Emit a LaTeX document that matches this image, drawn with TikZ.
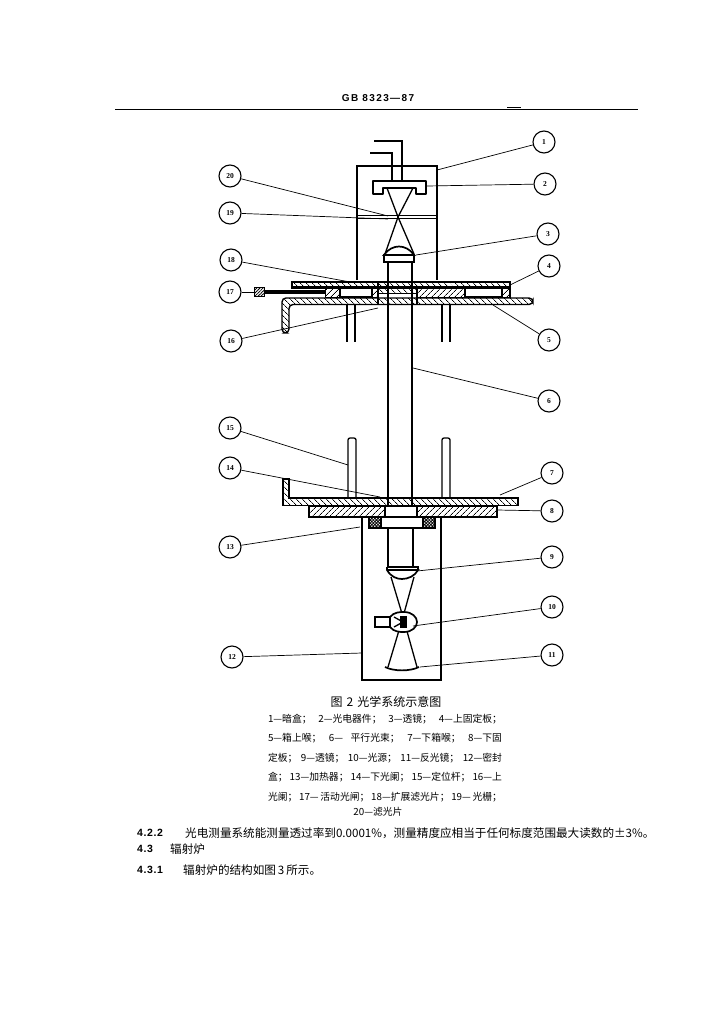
\documentclass[tikz,border=0pt]{standalone}
\usepackage{fontspec}
\setmainfont{Liberation Serif}
\newfontfamily\cjk{Noto Sans CJK SC}
\newfontfamily\bsans{Liberation Sans}[BoldFont={Liberation Sans Bold},LetterSpace=6]
\newfontfamily\hdrfont{Liberation Sans}[BoldFont={Liberation Sans Bold},LetterSpace=14]
\usetikzlibrary{patterns.meta}
\newcommand{\capline}[1]{\makebox[234pt][s]{#1}}
\tikzset{
  x=1pt,y=-1pt,
  num/.style={draw,circle,line width=1.1pt,minimum size=22pt,inner sep=0pt,font=\fontsize{7.5}{8}\selectfont\bfseries},
  leader/.style={line width=0.7pt},
  heavy/.style={line width=1.7pt},
  thin part/.style={line width=1.3pt},
  hatchR/.style={draw,line width=1.4pt,pattern={Lines[angle=45,distance=4pt,line width=0.75pt]}},
  hatchL/.style={draw,line width=1.4pt,pattern={Lines[angle=-45,distance=4pt,line width=0.75pt]}},
  hatchX/.style={draw,line width=1.4pt,pattern={Lines[angle=45,distance=2.2pt,line width=0.8pt]},postaction={pattern={Lines[angle=-45,distance=2.2pt,line width=0.8pt]}}},
  captext/.style={inner sep=0pt,font=\cjk\fontsize{9.8}{11}\selectfont},
  para/.style={inner sep=0pt,anchor=west,font=\cjk\fontsize{11.6}{12}\selectfont},
  secnum/.style={inner sep=0pt,anchor=west,font=\bsans\bfseries\fontsize{10.5}{12}\selectfont}
}
\begin{document}
\begin{tikzpicture}
\useasboundingbox (0,0) rectangle (724,1024);
\fill[white] (0,0) rectangle (724,1024);
% header
\node[inner sep=0pt,font=\hdrfont\bfseries\fontsize{10}{11}\selectfont] (hdr) at (378,98) {GB 8323—87};
\draw[line width=1.6pt] (115,109.5) -- (638,109.5);
\draw[line width=0.6pt] (507,107) -- (521,107);

% box 1
\draw[heavy] (357,280) -- (357,166) -- (437,166) -- (437,280);
\draw[heavy] (357,215.5) -- (437,215.5);
\draw[heavy] (357,218.5) -- (437,218.5);
% wires
\draw[thin part] (374,141) -- (402,141) -- (402,181);
\draw[thin part] (370,153) -- (392,153) -- (392,181);
% detector
\draw[heavy,line join=round] (373,181) -- (426,181) -- (426,194) -- (416,194) -- (416,188) -- (383,188) -- (383,194) -- (373,194) -- cycle;
% cones
\draw[thin part] (387,188) -- (398,217) -- (414,254);
\draw[thin part] (413,188) -- (398,217) -- (385,254);
% lens 3
\draw[heavy,fill=white] (384,255) .. controls (388,249) and (394,246.5) .. (399,246.5) .. controls (404,246.5) and (410,249) .. (414,255) -- cycle;
\draw[heavy] (384,255) rectangle (414,262);
% beam
\draw[heavy] (388,262) -- (388,512);
\draw[heavy] (412,262) -- (412,512);
% rods upper
\draw[thin part] (347,304) -- (347,342);
\draw[thin part] (355,304) -- (355,342);
\draw[thin part] (442,304) -- (442,342);
\draw[thin part] (450,304) -- (450,342);
% upper fixed plate 4
\draw[hatchL] (292,282) rectangle (510,287);
\path[hatchR,line width=0.9pt] (325,288) rectangle (340,297);
\draw[line width=1.1pt] (340,288) rectangle (372,297);
\path[hatchR,line width=0.9pt] (372,288) rectangle (378,297);
\path[hatchL,line width=0.9pt] (378,288) rectangle (417,293);
\path[hatchR,line width=0.9pt] (417,288) rectangle (465,297);
\draw[line width=1.1pt] (465,288) rectangle (502,297);
\path[hatchR,line width=0.9pt] (502,288) rectangle (510,297);
\draw[heavy] (510,282) -- (510,298);
\draw[heavy] (292,282) -- (292,288) -- (325,288);
% slider 17
\draw[line width=4pt] (265,292) -- (325,292);
\node[draw,line width=1.2pt,minimum width=10pt,minimum height=9pt,inner sep=0pt,pattern={Lines[angle=45,distance=2.2pt,line width=0.8pt]}] (slide) at (259.5,292) {};
% lower plate 5
\draw[hatchL,rounded corners=4pt] (533,298) -- (282,298) -- (282,333) -- (289,333) -- (289,304.5) -- (533,304.5) -- cycle;
% centre marks
\draw[line width=1.3pt] (378,282) -- (378,304);
\draw[line width=1.3pt] (417,287) -- (417,304);

% lower rods
\draw[thin part,rounded corners=2pt] (348,498) -- (348,438) -- (356,438) -- (356,498);
\draw[thin part,rounded corners=2pt] (442,498) -- (442,438) -- (450,438) -- (450,498);
% plate 7
\draw[hatchL] (283,479) -- (289,479) -- (289,498) -- (518,498) -- (518,505.5) -- (283,505.5) -- cycle;
% plate 8
\path[hatchR] (309,506) rectangle (385,517);
\path[hatchR] (417,506) rectangle (497,517);
\draw[heavy,fill=white] (385,506) rectangle (417,517);
% heater 13 and box 12
\draw[heavy] (362,517) -- (362,680) -- (441,680) -- (441,517);
\draw[heavy,fill=white] (369,517) rectangle (435,528);
\path[hatchX] (369,517) rectangle (381,528);
\path[hatchX] (423,517) rectangle (435,528);
% beam below
\draw[thin part] (388,528) -- (388,568);
\draw[thin part] (413,528) -- (413,568);
% lens 9
\draw[heavy] (387,567) -- (418,567) -- (418,570);
\draw[heavy] (387,567) -- (387,570) .. controls (391,577) and (397,579) .. (402,579) .. controls (408,579) and (415,576) .. (418,570) -- (387,570);
% cones lower
\draw[thin part] (391,577) -- (403,617) -- (417,667);
\draw[thin part] (414,577) -- (403,617) -- (388,667);
% mirror 11
\draw[heavy] (385,667) .. controls (394,671.5) and (410,671.5) .. (419,667);
% lamp 10
\draw[heavy,fill=white] (375,617) rectangle (390,627);
\draw[heavy,fill=white] (390,617) .. controls (394,612) and (400,612) .. (404,612) .. controls (412,612) and (417,617) .. (417,622) .. controls (417,627) and (412,632) .. (404,632) .. controls (400,632) and (394,632) .. (390,627) -- cycle;
\fill (400,616) rectangle (407,628);
\draw[thin part] (394,617) -- (403,622) -- (394,627);

% labelled circles
\node[num] (n1) at (544,142) {1};
\node[num] (n2) at (545,184) {2};
\node[num] (n3) at (548,234) {3};
\node[num] (n4) at (549,266) {4};
\node[num] (n5) at (549,340) {5};
\node[num] (n6) at (549,401) {6};
\node[num] (n7) at (552,473) {7};
\node[num] (n8) at (552,511) {8};
\node[num] (n9) at (552,557) {9};
\node[num] (n10) at (552,607) {10};
\node[num] (n11) at (552,655) {11};
\node[num] (n12) at (232,657) {12};
\node[num] (n13) at (230,547) {13};
\node[num] (n14) at (230,468) {14};
\node[num] (n15) at (230,428) {15};
\node[num] (n16) at (231,341) {16};
\node[num] (n17) at (230,292) {17};
\node[num] (n18) at (231,260) {18};
\node[num] (n19) at (230,213) {19};
\node[num] (n20) at (230,176) {20};
% leader ends
\coordinate (e1) at (437,170);
\coordinate (e2) at (427,186);
\coordinate (e3) at (416,255);
\coordinate (e4) at (510,285);
\coordinate (e5) at (493,305);
\coordinate (e6) at (413,368);
\coordinate (e7) at (500,495);
\coordinate (e8) at (497,510);
\coordinate (e9) at (417,571);
\coordinate (e10) at (413,626);
\coordinate (e11) at (420,667);
\coordinate (e12) at (362,653);
\coordinate (e13) at (360,527);
\coordinate (e14) at (380,497);
\coordinate (e15) at (348,465);
\coordinate (e16) at (378,308);
\coordinate (e18) at (350,282);
\coordinate (e19) at (388,219);
\coordinate (e20) at (388,216);
\foreach \i in {1,...,16,18,19,20} \draw[leader] (n\i) -- (e\i);
\draw[leader] (n17) -- (slide);

% captions
\node[inner sep=0pt,font=\cjk\fontsize{12}{13}\selectfont] (t0) at (386,702) {图\,\,2\,\,光学系统示意图};
\node[captext] (t1) at (385,719) {\capline{1—暗盒； 2—光电器件； 3—透镜； 4—上固定板；}};
\node[captext] (t2) at (385,738) {\capline{5—箱上喉； 6— 平行光束； 7—下箱喉； 8—下固}};
\node[captext] (t3) at (385,758) {\capline{定板； 9—透镜； 10—光源； 11—反光镜； 12—密封}};
\node[captext] (t4) at (385,777) {\capline{盒； 13—加热器； 14—下光阑； 15—定位杆； 16—上}};
\node[captext] (t5) at (385,797) {\capline{光阑； 17— 活动光闸； 18—扩展滤光片； 19— 光栅；}};
\node[captext] (t6) at (378,812) {20—滤光片};
\node[secnum] (s1) at (137,833) {4.2.2};
\node[para] (p1) at (185,833) {光电测量系统能测量透过率到0.0001\%，测量精度应相当于任何标度范围最大读数的±3\%。};
\node[secnum] (s2) at (137,849) {4.3};
\node[para] (p2) at (170,849) {辐射炉};
\node[secnum] (s3) at (137,870) {4.3.1};
\node[para] (p3) at (183,870) {辐射炉的结构如图\,3\,所示。};
\end{tikzpicture}
\end{document}
